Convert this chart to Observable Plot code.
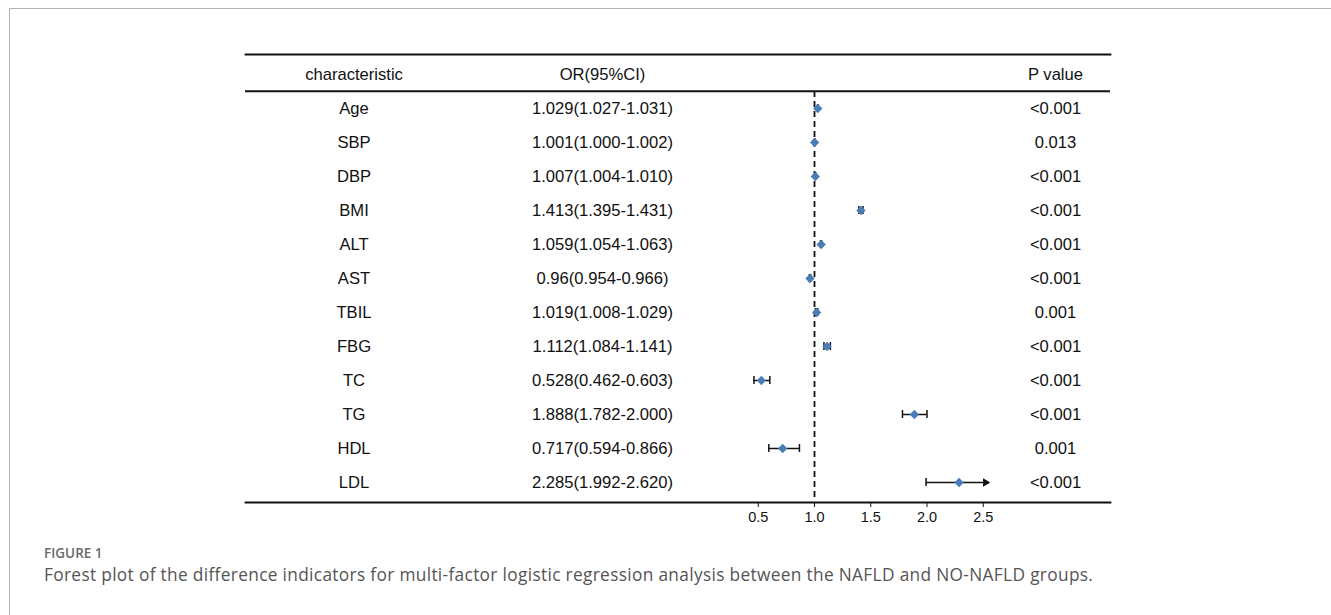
<!DOCTYPE html>
<html><head><meta charset="utf-8">
<script src="https://cdn.jsdelivr.net/npm/d3@7"></script>
<script src="https://cdn.jsdelivr.net/npm/@observablehq/plot@0.6"></script>
<style>
html,body{margin:0;padding:0;background:#fff;}
body{width:1331px;height:615px;position:relative;overflow:hidden;}
#frame{position:absolute;left:9px;top:8px;right:-2px;bottom:-2px;border-left:1px solid #b4b4b4;border-top:1px solid #b4b4b4;}
#chart{position:absolute;left:0;top:0;}
#fig{position:absolute;left:44px;top:546px;font-family:"Open Sans",sans-serif;font-weight:600;font-size:13.5px;line-height:14px;color:#6a6a6a;}
#cap{position:absolute;left:44px;top:566px;font-family:"Open Sans",sans-serif;font-size:17.3px;letter-spacing:0.33px;line-height:18px;color:#555;white-space:nowrap;}
</style></head><body>
<div id="frame"></div>
<div id="chart"></div>
<div id="fig">FIGURE 1</div>
<div id="cap">Forest plot of the difference indicators for multi-factor logistic regression analysis between the NAFLD and NO-NAFLD groups.</div>
<script>
const characteristics = ["Age","SBP","DBP","BMI","ALT","AST","TBIL","FBG","TC","TG","HDL","LDL"];
const orValues = [1.029,1.001,1.007,1.413,1.059,0.96,1.019,1.112,0.528,1.888,0.717,2.285];
const ciLower  = [1.027,1.000,1.004,1.395,1.054,0.954,1.008,1.084,0.462,1.782,0.594,1.992];
const ciUpper  = [1.031,1.002,1.010,1.431,1.063,0.966,1.029,1.141,0.603,2.000,0.866,2.620];
const orLabels = ["1.029(1.027-1.031)","1.001(1.000-1.002)","1.007(1.004-1.010)","1.413(1.395-1.431)",
  "1.059(1.054-1.063)","0.96(0.954-0.966)","1.019(1.008-1.029)","1.112(1.084-1.141)",
  "0.528(0.462-0.603)","1.888(1.782-2.000)","0.717(0.594-0.866)","2.285(1.992-2.620)"];
const pValues = ["<0.001","0.013","<0.001","<0.001","<0.001","<0.001","0.001","<0.001","<0.001","<0.001","0.001","<0.001"];
const headers = ["characteristic","OR(95%CI)","P value"];
const xTicks = [0.5,1.0,1.5,2.0,2.5];
const refLine = 1;
const xArrowAt = 2.52;   // truncation point of the displayed x range

const rows = characteristics.map((name,i)=>({key:name,name,or:orValues[i],lo:ciLower[i],hi:ciUpper[i],ci:orLabels[i],p:pValues[i]}));
const headerKey = "__header__";
const tableRows = [{key:headerKey,name:headers[0],ci:headers[1],p:headers[2]}, ...rows];

// layout
const W=1331,H=540,mT=54,mB=38,mL=245,mR=221;
const band=(H-mT-mB)/tableRows.length;
const zeroPx=701.5, pxPerUnit=112.5;
const xDomain=[(mL-zeroPx)/pxPerUnit,(W-mR-zeroPx)/pxPerUnit];
const ink="#111", blue="#4A7DB8";
const tfs=16.6;

const chart = Plot.plot({
  width:W,height:H,marginTop:mT,marginBottom:mB,marginLeft:mL,marginRight:mR,
  style:{fontFamily:"'Liberation Sans', Arial, sans-serif",fontSize:"14.5px",color:ink,background:"transparent",overflow:"visible"},
  x:{domain:xDomain,ticks:xTicks,tickFormat:d3.format(".1f"),label:null,tickSize:5,tickPadding:4},
  y:{type:"band",domain:tableRows.map(d=>d.key),padding:0,axis:null},
  marks:[
    Plot.frame({anchor:"top",stroke:ink,strokeWidth:1.8}),
    Plot.frame({anchor:"bottom",stroke:ink,strokeWidth:1.8}),
    Plot.ruleY([characteristics[0]],{dy:-band/2,stroke:ink,strokeWidth:1.8}),
    Plot.ruleX([refLine],{y1:()=>characteristics[0],y2:()=>characteristics[characteristics.length-1],stroke:ink,strokeWidth:1.8,strokeDasharray:"6,4"}),
    Plot.ruleY(rows,{y:"key",x1:"lo",x2:d=>Math.min(d.hi,xArrowAt),stroke:ink,strokeWidth:1.5}),
    Plot.tickX(rows,{y:"key",x:"lo",insetTop:13,insetBottom:13,stroke:ink,strokeWidth:1.5}),
    Plot.tickX(rows.filter(d=>d.hi<=xArrowAt),{y:"key",x:"hi",insetTop:13,insetBottom:13,stroke:ink,strokeWidth:1.5}),
    Plot.dot(rows.filter(d=>d.hi>xArrowAt),{y:"key",x:()=>xArrowAt,symbol:"triangle2",rotate:90,r:4,fill:ink}),
    Plot.dot(rows,{y:"key",x:"or",symbol:"diamond2",r:4.2,fill:blue}),
    Plot.text(tableRows,{y:"key",text:"name",frameAnchor:"left",dx:108.5,textAnchor:"middle",fontSize:tfs,fill:ink}),
    Plot.text(tableRows,{y:"key",text:"ci",frameAnchor:"left",dx:357,textAnchor:"middle",fontSize:tfs,fill:ink}),
    Plot.text(tableRows,{y:"key",text:"p",frameAnchor:"right",dx:-55,textAnchor:"middle",fontSize:tfs,fill:ink})
  ]
});
document.getElementById("chart").appendChild(chart);
</script>
</body></html>
